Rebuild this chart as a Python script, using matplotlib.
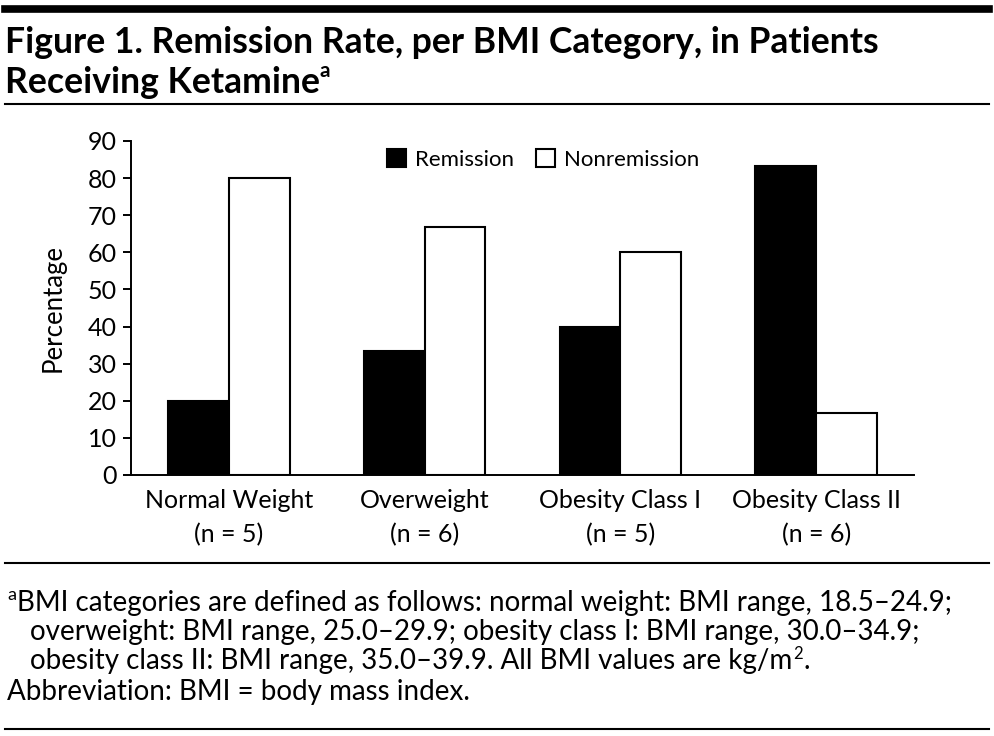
import matplotlib
matplotlib.use("Agg")
from matplotlib import pyplot as plt
from matplotlib.lines import Line2D
import numpy as np

categories = ["Normal Weight\n(n = 5)", "Overweight\n(n = 6)",
              "Obesity Class I\n(n = 5)", "Obesity Class II\n(n = 6)"]
remission = [20.0, 33.3, 40.0, 83.3]
nonremission = [80.0, 66.7, 60.0, 16.7]
yticks = list(range(0, 100, 10))

W, H = 994, 736
plt.rcParams["font.family"] = ["Lato", "DejaVu Sans"]
fig = plt.figure(figsize=(W / 100, H / 100), dpi=100)
fig.patch.set_facecolor("white")


def px(x, y):
    # pixel coords (top-left origin) -> figure fraction
    return x / W, 1 - y / H


def hrule(y, lw, x0=5, x1=989):
    (a, b), (c, d) = px(x0, y), px(x1, y)
    fig.add_artist(Line2D([a, c], [b, d], color="black", lw=lw,
                          transform=fig.transFigure))


hrule(8.5, 5.5)
hrule(104, 1.5)
hrule(563, 1.5)
hrule(729, 1.5)

# title
tfs = 25.6
fig.text(*px(5, 53), "Figure 1. Remission Rate, per BMI Category, in Patients",
         weight="bold", fontsize=tfs, va="baseline", ha="left")
fig.text(*px(5, 93), "Receiving Ketamine",
         weight="bold", fontsize=tfs, va="baseline", ha="left")
fig.text(*px(319, 77), "a", weight="bold", fontsize=15,
         va="baseline", ha="left")

# axes
x0, x1 = 131, 914
ytop, ybot = 141, 475
ax = fig.add_axes([x0 / W, 1 - ybot / H, (x1 - x0) / W, (ybot - ytop) / H])
x = np.arange(len(categories))
bw = 0.31
ax.bar(x - bw / 2, remission, bw, color="black", edgecolor="black", lw=1.5,
       label="Remission")
ax.bar(x + bw / 2, nonremission, bw, color="white", edgecolor="black", lw=1.5,
       label="Nonremission")
ax.set_xlim(-0.5, len(categories) - 0.5)
ax.set_ylim(0, 90)
ax.set_yticks(yticks)
ax.set_xticks(x)
ax.set_xticklabels(categories, fontsize=18, linespacing=1.6)
ax.tick_params(axis="x", length=0, pad=10)
ax.tick_params(axis="y", labelsize=18, length=6, width=1.4, direction="out", pad=4)
for s in ["top", "right"]:
    ax.spines[s].set_visible(False)
for s in ["left", "bottom"]:
    ax.spines[s].set_linewidth(1.4)
ax.set_ylabel("Percentage", fontsize=18.5)
ax.yaxis.set_label_coords(-0.084, 0.5)
ax.legend(loc="upper center", bbox_to_anchor=(0.526, 1.035), ncol=2, frameon=False,
          fontsize=16, handlelength=0.85, handleheight=0.85, columnspacing=1.0,
          handletextpad=0.4)

# footnotes
fs = 20
fig.text(*px(7, 600), "a", fontsize=13, va="baseline", ha="left")
fig.text(*px(17, 611), "BMI categories are defined as follows: normal weight: BMI range, 18.5–24.9;",
         fontsize=fs, va="baseline", ha="left")
fig.text(*px(30, 640), "overweight: BMI range, 25.0–29.9; obesity class I: BMI range, 30.0–34.9;",
         fontsize=fs, va="baseline", ha="left")
t3 = fig.text(*px(30, 669), "obesity class II: BMI range, 35.0–39.9. All BMI values are kg/m",
              fontsize=fs, va="baseline", ha="left")
sup = fig.add_artist(plt.Annotation("2", xy=(1, H - 659), xycoords=(t3, "figure pixels"),
                                    xytext=(0.5, 0), textcoords="offset points",
                                    fontsize=12, va="baseline", ha="left"))
fig.add_artist(plt.Annotation(".", xy=(1, H - 669), xycoords=(sup, "figure pixels"),
                              xytext=(0.5, 0), textcoords="offset points",
                              fontsize=fs, va="baseline", ha="left"))
fig.text(*px(7, 700), "Abbreviation: BMI = body mass index.",
         fontsize=fs, va="baseline", ha="left")

fig.savefig("out.png", dpi=100, facecolor="white")
